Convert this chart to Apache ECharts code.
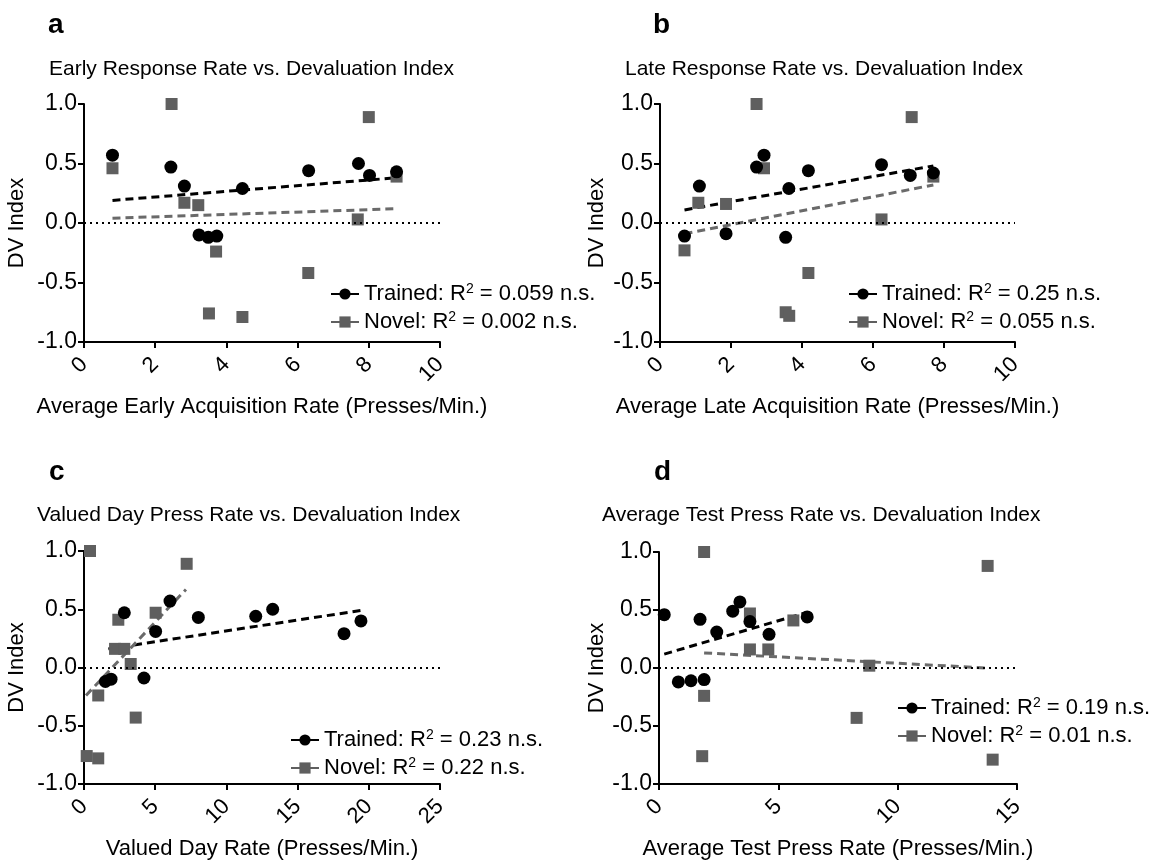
<!DOCTYPE html>
<html>
<head>
<meta charset="utf-8">
<script src="https://cdn.jsdelivr.net/npm/echarts@6/dist/echarts.min.js"></script>
<style>
html,body{margin:0;padding:0;background:#fff;}
#chart{width:1160px;height:861px;}
</style>
</head>
<body>
<div id="chart"></div>
<script>
// ---------- DATA ----------
const panelLetters = ['a', 'b', 'c', 'd'];
const panelTitles = [
  'Early Response Rate vs. Devaluation Index',
  'Late Response Rate vs. Devaluation Index',
  'Valued Day Press Rate vs. Devaluation Index',
  'Average Test Press Rate vs. Devaluation Index'
];
const xAxisNames = [
  'Average Early Acquisition Rate (Presses/Min.)',
  'Average Late Acquisition Rate (Presses/Min.)',
  'Valued Day Rate (Presses/Min.)',
  'Average Test Press Rate (Presses/Min.)'
];
const yAxisName = 'DV Index';
const xMax = [10, 10, 25, 15];
const xStep = [2, 2, 5, 5];
const yTicks = [-1.0, -0.5, 0.0, 0.5, 1.0];

const trainedLabels = ['Trained: R2 = 0.059 n.s.', 'Trained: R2 = 0.25 n.s.', 'Trained: R2 = 0.23 n.s.', 'Trained: R2 = 0.19 n.s.'];
const novelLabels   = ['Novel: R2 = 0.002 n.s.', 'Novel: R2 = 0.055 n.s.', 'Novel: R2 = 0.22 n.s.', 'Novel: R2 = 0.01 n.s.'];

// panel a
const aTrainedX = [0.80, 2.44, 2.82, 3.23, 3.49, 3.73, 4.45, 6.31, 7.71, 8.02, 8.78];
const aTrainedY = [0.57, 0.47, 0.31, -0.10, -0.12, -0.11, 0.29, 0.44, 0.50, 0.40, 0.43];
const aNovelX   = [0.80, 2.46, 2.82, 3.21, 3.51, 3.71, 4.45, 6.30, 7.69, 8.00, 8.78];
const aNovelY   = [0.46, 1.00, 0.17, 0.15, -0.76, -0.24, -0.79, -0.42, 0.03, 0.89, 0.39];
const aTrainedFit = [[0.80, 0.19], [8.78, 0.38]];
const aNovelFit   = [[0.80, 0.04], [8.78, 0.12]];

// panel b
const bTrainedX = [0.69, 1.11, 1.86, 2.72, 2.93, 3.54, 3.63, 4.18, 6.24, 7.05, 7.70];
const bTrainedY = [-0.11, 0.31, -0.09, 0.47, 0.57, -0.12, 0.29, 0.44, 0.49, 0.40, 0.42];
const bNovelX   = [0.69, 1.08, 1.86, 2.72, 2.93, 3.54, 3.64, 4.18, 6.24, 7.09, 7.70];
const bNovelY   = [-0.23, 0.17, 0.16, 1.00, 0.46, -0.75, -0.78, -0.42, 0.03, 0.89, 0.39];
const bTrainedFit = [[0.69, 0.11], [7.70, 0.48]];
const bNovelFit   = [[0.69, -0.09], [7.70, 0.32]];

// panel c
const cTrainedX = [1.50, 1.90, 2.83, 4.21, 5.03, 6.04, 8.03, 12.06, 13.25, 18.26, 19.45];
const cTrainedY = [-0.12, -0.10, 0.47, -0.09, 0.31, 0.57, 0.43, 0.44, 0.50, 0.29, 0.40];
const cNovelX   = [0.19, 0.42, 1.00, 1.00, 2.18, 2.41, 2.83, 3.28, 3.63, 5.03, 7.21];
const cNovelY   = [-0.76, 1.00, -0.24, -0.78, 0.16, 0.41, 0.16, 0.03, -0.43, 0.47, 0.89];
const cTrainedFit = [[1.71, 0.16], [19.45, 0.49]];
const cNovelFit   = [[0.14, -0.24], [7.16, 0.67]];

// panel d
const dTrainedX = [0.22, 0.81, 1.34, 1.72, 1.89, 2.42, 3.09, 3.39, 3.81, 4.61, 6.21];
const dTrainedY = [0.46, -0.12, -0.11, 0.42, -0.10, 0.31, 0.49, 0.57, 0.40, 0.29, 0.44];
const dNovelX   = [1.81, 1.89, 1.89, 3.81, 3.81, 4.58, 5.63, 8.28, 8.81, 13.77, 13.98];
const dNovelY   = [-0.76, 1.00, -0.24, 0.47, 0.16, 0.16, 0.41, -0.43, 0.02, 0.88, -0.79];
const dTrainedFit = [[0.22, 0.12], [6.21, 0.48]];
const dNovelFit   = [[1.89, 0.13], [13.70, 0.00]];

// ---------- LAYOUT ----------
const FONT = "'Liberation Sans', Arial, Helvetica, sans-serif";
const layout = [
  {grid: {left: 84, top: 104, width: 356, height: 238}, letter: [43, 6], title: [44, 54], legend: [325, 277], yGap: 56},
  {grid: {left: 660, top: 104, width: 355, height: 238}, letter: [648, 6], title: [620, 54], legend: [843, 277], yGap: 52},
  {grid: {left: 84, top: 551, width: 356, height: 238}, letter: [44, 453], title: [32, 500], legend: [285, 723], yGap: 56},
  {grid: {left: 659, top: 552, width: 358, height: 237}, letter: [649, 453], title: [597, 500], legend: [892, 691], yGap: 51}
];

const panels = [
  {tx: aTrainedX, ty: aTrainedY, nx: aNovelX, ny: aNovelY, tf: aTrainedFit, nf: aNovelFit},
  {tx: bTrainedX, ty: bTrainedY, nx: bNovelX, ny: bNovelY, tf: bTrainedFit, nf: bNovelFit},
  {tx: cTrainedX, ty: cTrainedY, nx: cNovelX, ny: cNovelY, tf: cTrainedFit, nf: cNovelFit},
  {tx: dTrainedX, ty: dTrainedY, nx: dNovelX, ny: dNovelY, tf: dTrainedFit, nf: dNovelFit}
];

const BLACK = '#000000';
const GRAY = '#5f5f5f';
const GRAY_LINE = '#6a6a6a';

const zip = (xs, ys) => xs.map((x, i) => [x, ys[i]]);

const option = {
  backgroundColor: '#ffffff',
  animation: false,
  textStyle: {fontFamily: FONT},
  title: [], grid: [], xAxis: [], yAxis: [], legend: [], series: []
};

panels.forEach((p, i) => {
  const L = layout[i];
  option.title.push({
    text: panelLetters[i], left: L.letter[0], top: L.letter[1],
    textStyle: {fontFamily: FONT, fontSize: 28, fontWeight: 'bold', color: BLACK}
  });
  option.title.push({
    text: panelTitles[i], left: L.title[0], top: L.title[1],
    textStyle: {fontFamily: FONT, fontSize: 21, fontWeight: 'normal', color: BLACK}
  });
  option.grid.push(Object.assign({containLabel: false}, L.grid));
  option.xAxis.push({
    type: 'value', gridIndex: i, min: 0, max: xMax[i], interval: xStep[i],
    name: xAxisNames[i], nameLocation: 'middle', nameGap: 54,
    nameTextStyle: {fontFamily: FONT, fontSize: 22, color: BLACK},
    axisLine: {show: true, onZero: false, lineStyle: {color: BLACK, width: 2}},
    axisTick: {show: true, inside: false, length: 6, lineStyle: {color: BLACK, width: 2}},
    axisLabel: {rotate: 45, margin: 19, fontFamily: FONT, fontSize: 22, color: BLACK},
    splitLine: {show: false}
  });
  option.yAxis.push({
    type: 'value', gridIndex: i, min: yTicks[0], max: yTicks[yTicks.length - 1], interval: 0.5,
    name: yAxisName, nameLocation: 'middle', nameGap: L.yGap,
    nameTextStyle: {fontFamily: FONT, fontSize: 22, color: BLACK},
    axisLine: {show: true, onZero: false, lineStyle: {color: BLACK, width: 2}},
    axisTick: {show: true, inside: false, length: 6, lineStyle: {color: BLACK, width: 2}},
    axisLabel: {margin: 7, fontFamily: FONT, fontSize: 23, color: BLACK, formatter: v => v.toFixed(1)},
    splitLine: {show: false}
  });
  option.legend.push({
    left: L.legend[0], top: L.legend[1], orient: 'vertical',
    itemWidth: 28, itemHeight: 14, itemGap: 5,
    data: [trainedLabels[i], novelLabels[i]],
    formatter: name => name.replace('R2', 'R{sup|2}'),
    textStyle: {fontFamily: FONT, fontSize: 22, color: BLACK,
      rich: {sup: {fontFamily: FONT, fontSize: 14, color: BLACK, verticalAlign: 'top', padding: [0, 0, 10, 0]}}},
    selectedMode: false
  });
  // trend lines + zero dotted line
  option.series.push({
    type: 'line', xAxisIndex: i, yAxisIndex: i, data: p.tf, showSymbol: false, symbol: 'none',
    lineStyle: {color: BLACK, width: 3, type: [8, 5]}, z: 3, silent: true,
    markLine: {silent: true, symbol: 'none', label: {show: false},
      lineStyle: {color: BLACK, width: 2, type: [2, 4]}, data: [{yAxis: 0}]}
  });
  option.series.push({
    type: 'line', xAxisIndex: i, yAxisIndex: i, data: p.nf, showSymbol: false, symbol: 'none',
    lineStyle: {color: GRAY_LINE, width: 3, type: [8, 5]}, z: 3, silent: true
  });
  // points
  option.series.push({
    type: 'scatter', xAxisIndex: i, yAxisIndex: i, data: zip(p.nx, p.ny),
    symbol: 'rect', symbolSize: 12, itemStyle: {color: GRAY, opacity: 1}, z: 4, silent: true
  });
  option.series.push({
    type: 'scatter', xAxisIndex: i, yAxisIndex: i, data: zip(p.tx, p.ty),
    symbol: 'circle', symbolSize: 13, itemStyle: {color: BLACK, opacity: 1}, z: 5, silent: true
  });
  // legend entries
  option.series.push({
    name: trainedLabels[i], type: 'line', xAxisIndex: i, yAxisIndex: i, data: [],
    symbol: 'circle', symbolSize: 13, itemStyle: {color: BLACK, opacity: 1}, lineStyle: {color: BLACK, width: 3}
  });
  option.series.push({
    name: novelLabels[i], type: 'line', xAxisIndex: i, yAxisIndex: i, data: [],
    symbol: 'rect', symbolSize: 12, itemStyle: {color: GRAY, opacity: 1}, lineStyle: {color: GRAY, width: 3}
  });
});

const chart = echarts.init(document.getElementById('chart'), null, {renderer: 'canvas'});
chart.setOption(option);
</script>
</body>
</html>
